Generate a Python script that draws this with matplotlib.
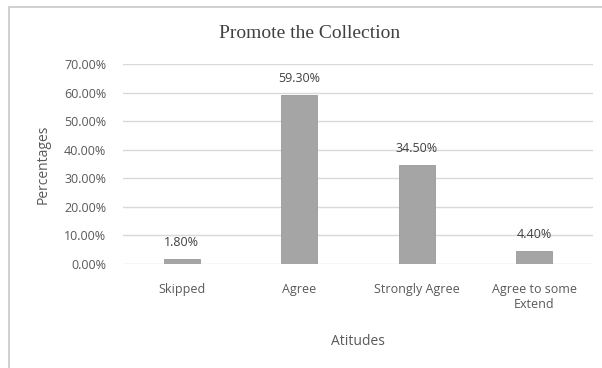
import matplotlib.pyplot as plt
from matplotlib.patches import Rectangle

categories = ["Skipped", "Agree", "Strongly Agree", "Agree to some\nExtend"]
values = [0.018, 0.593, 0.345, 0.044]
value_labels = ["1.80%", "59.30%", "34.50%", "4.40%"]
yticks = [0.0, 0.1, 0.2, 0.3, 0.4, 0.5, 0.6, 0.7]

W, H = 602, 368
fig = plt.figure(figsize=(W / 100, H / 100), dpi=100)

# outer chart frame (cut off on right/bottom like the screenshot)
fig.patches.append(Rectangle((9 / W, -0.1), 1.2, 1 - 7 / H + 0.1,
                             transform=fig.transFigure, fill=False,
                             edgecolor="#c8c8c8", linewidth=1.2))

ax = fig.add_axes([123 / W, 1 - 264 / H, (593 - 123) / W, 200 / H])

x = range(len(categories))
ax.bar(x, values, width=0.31, color="#a5a5a5", edgecolor="#999999",
       linewidth=0.6, zorder=3)
for xi, v, lab in zip(x, values, value_labels):
    ax.text(xi, v + 0.035, lab, ha="center", va="bottom", fontsize=9,
            color="#404040", family="Open Sans")

ax.set_xlim(-0.5, len(categories) - 0.5)
ax.set_ylim(0, 0.7)
ax.set_yticks(yticks)
ax.set_yticklabels([f"{t * 100:.2f}%" for t in yticks])
ax.set_xticks(list(x))
ax.set_xticklabels(categories)
ax.yaxis.grid(True, color="#d9d9d9", linewidth=1, zorder=0)
ax.set_axisbelow(True)
for s in ax.spines.values():
    s.set_visible(False)
ax.tick_params(length=0, labelsize=9, labelcolor="#595959", pad=12)
ax.tick_params(axis="x", pad=14)
for lbl in ax.get_xticklabels() + ax.get_yticklabels():
    lbl.set_family("Open Sans")

ax.set_xlabel("Atitudes", fontsize=10, color="#595959", family="Open Sans",
              labelpad=16)
ax.set_ylabel("Percentages", fontsize=10, color="#595959", family="Open Sans",
              labelpad=10)

fig.text(310 / W, 1 - 33 / H, "Promote the Collection", ha="center",
         va="center", fontsize=14, color="#404040", family="Liberation Serif")

fig.savefig("out.png", dpi=100)
